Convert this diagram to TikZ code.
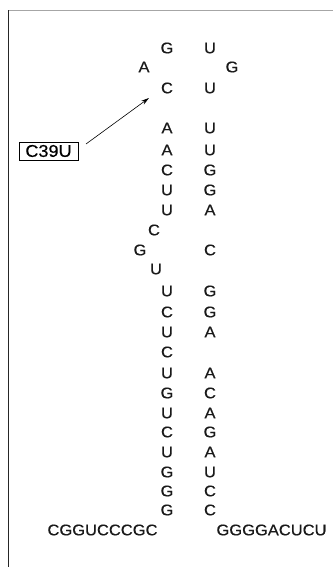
\documentclass[tikz,border=0pt]{standalone}
\usepackage{fontspec}
\setmainfont{Liberation Sans}[FakeStretch=1.065,FakeBold=0.4]
\usetikzlibrary{arrows.meta}
\begin{document}
\begin{tikzpicture}[x=1pt,y=-1pt,
  nt/.style={inner sep=0pt, anchor=center, font=\fontsize{15.5}{15.5}\selectfont, text=black!90},
  lbl/.style={draw, line width=0.6pt, inner sep=0pt, minimum width=59pt, minimum height=18pt, font=\fontsize{17}{17}\selectfont},
  conn/.style={line width=0.6pt, -{Stealth[length=8pt,width=4.5pt]}},
  frame/.style={line width=1pt}]
\useasboundingbox (0,0) rectangle (333,567);
% frame
\coordinate (fTL) at (8,10.5);
\coordinate (fTR) at (333,10.5);
\coordinate (fBL) at (8,567);
\draw[frame, gray!70] (fTL) -- (fTR);
\draw[frame, black!85] (fTL) -- (fBL);
% loop
\node[nt] (g1) at (167,48) {G};
\node[nt] (u1) at (210,48) {U};
\node[nt] (a1) at (144,67) {A};
\node[nt] (g2) at (232,67) {G};
\node[nt] (c1) at (167,88) {C};
\node[nt] (u2) at (210,88) {U};
% upper stem
\foreach \y/\a/\b [count=\i] in {128/A/U,150/A/U,170/C/G,190/U/G,210/U/A}{
  \node[nt] (L\i) at (167,\y) {\a};
  \node[nt] (R\i) at (210,\y) {\b};
}
% bulge
\node[nt] (bc) at (154,230) {C};
\node[nt] (bg) at (140,250) {G};
\node[nt] (bcr) at (210,250) {C};
\node[nt] (bu) at (156,269) {U};
% middle stem
\foreach \y/\a/\b [count=\i] in {291/U/G,312/C/G,332/U/A}{
  \node[nt] (M\i) at (167,\y) {\a};
  \node[nt] (N\i) at (210,\y) {\b};
}
\node[nt] (mc) at (167,352) {C};
% lower stem
\foreach \y/\a/\b [count=\i] in {373/U/A,393/G/C,413/U/A,432/C/G,452/U/A,472/G/U,491/G/C,510/G/C}{
  \node[nt] (P\i) at (167,\y) {\a};
  \node[nt] (Q\i) at (210,\y) {\b};
}
% tails
\node[nt] (t5) at (102.5,530) {CGGUCCCGC};
\node[nt] (t3) at (271.5,530) {GGGGACUCU};
% label
\node[lbl] (lab) at (48.5,151) {C39U};
\coordinate (arrS) at (86,144);
\coordinate (arrE) at (149,98);
\draw[conn] (arrS) -- (arrE);
\end{tikzpicture}
\end{document}
